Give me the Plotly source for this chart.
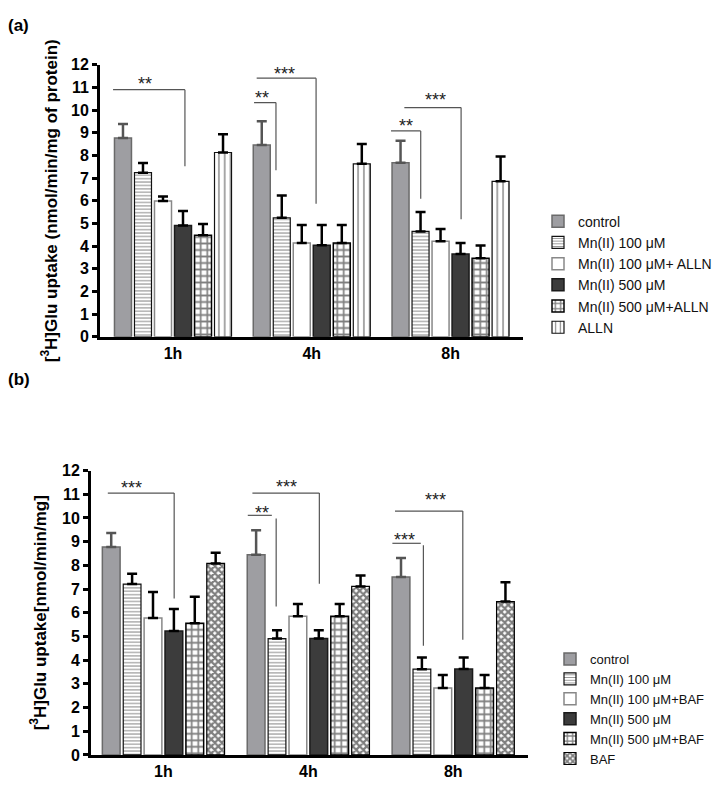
import plotly.graph_objects as go

W, H = 726, 792
groups = ["1h", "4h", "8h"]
xpos = [0, 1, 2]

names_a = ["control", "Mn(II) 100 \u03bcM", "Mn(II) 100 \u03bcM+ ALLN", "Mn(II) 500 \u03bcM",
           "Mn(II) 500 \u03bcM+ALLN", "ALLN"]
vals_a = [[8.77, 8.46, 7.68], [7.24, 5.25, 4.65], [5.99, 4.14, 4.22],
          [4.91, 4.04, 3.65], [4.48, 4.14, 3.47], [8.13, 7.63, 6.86]]
tops_a = [[9.39, 9.51, 8.65], [7.67, 6.23, 5.51], [6.19, 4.93, 4.75],
          [5.55, 4.93, 4.14], [4.98, 4.93, 4.03], [8.93, 8.50, 7.95]]

names_b = ["control", "Mn(II) 100 \u03bcM", "Mn(II) 100 \u03bcM+BAF", "Mn(II) 500 \u03bcM",
           "Mn(II) 500 \u03bcM+BAF", "BAF"]
vals_b = [[8.77, 8.45, 7.51], [7.21, 4.91, 3.62], [5.78, 5.85, 2.82],
          [5.23, 4.91, 3.63], [5.56, 5.85, 2.82], [8.08, 7.11, 6.47]]
tops_b = [[9.36, 9.48, 8.31], [7.64, 5.26, 4.11], [6.88, 6.37, 3.37],
          [6.16, 5.26, 4.11], [6.67, 6.37, 3.37], [8.53, 7.57, 7.29]]

# significance brackets: (x_start, x_end, y_line, x_vertical, y_vtop, y_bottom, label, text_x, text_y)
sig_a = [(-0.432, 0.086, 10.9, 0.086, 10.9, 7.52, "**", -0.20, 11.39),
         (0.584, 0.742, 10.33, 0.742, 10.33, 7.35, "**", 0.641, 10.75),
         (0.603, 1.031, 11.41, 1.031, 11.41, 5.87, "***", 0.807, 11.8),
         (1.571, 1.785, 9.08, 1.785, 9.08, 6.09, "**", 1.679, 9.5),
         (1.667, 2.076, 10.11, 2.076, 10.11, 5.18, "***", 1.895, 10.66)]
sig_b = [(-0.384, 0.074, 11.05, 0.074, 11.05, 6.6, "***", -0.218, 11.46),
         (0.582, 0.748, 10.11, 0.778, 9.98, 6.26, "**", 0.683, 10.43),
         (0.614, 1.076, 11.05, 1.076, 11.05, 7.22, "***", 0.851, 11.53),
         (1.580, 1.776, 8.93, 1.794, 8.85, 4.61, "***", 1.667, 9.26),
         (1.598, 2.066, 10.29, 2.066, 10.29, 4.86, "***", 1.876, 10.98)]

FONT = "Liberation Sans, Arial, sans-serif"

styles = [
    dict(color="#9e9ea2", line=dict(color="#6a6a6a", width=1.5), pattern=dict(shape="")),
    dict(color="white", line=dict(color="#111", width=1.2),
         pattern=dict(shape="-", fgcolor="#111", size=3.4, solidity=0.3)),
    dict(color="white", line=dict(color="#888", width=1.5), pattern=dict(shape="")),
    dict(color="#3c3c3c", line=dict(color="#1a1a1a", width=1.5), pattern=dict(shape="")),
    dict(color="white", line=dict(color="#000", width=1.5),
         pattern=dict(shape="+", fgcolor="#000", size=6.5, solidity=0.45)),
]
style_a6 = dict(color="white", line=dict(color="#111", width=1.2),
                pattern=dict(shape="|", fgcolor="#111", size=5.8, solidity=0.25))
style_b6 = dict(color="white", line=dict(color="#000", width=1.2),
                pattern=dict(shape="x", fgcolor="#000", size=5, solidity=0.7))
err_colors = ["#555", "#000", "#000", "#000", "#000", "#000"]

fig = go.Figure()
for i in range(6):
    st = styles[i] if i < 5 else style_a6
    fig.add_trace(go.Bar(
        x=xpos, y=vals_a[i], name=names_a[i], marker=st, legend="legend",
        error_y=dict(type="data", symmetric=False,
                     array=[t - v for t, v in zip(tops_a[i], vals_a[i])],
                     arrayminus=[0, 0, 0], color=err_colors[i], thickness=2.5, width=5),
        xaxis="x", yaxis="y"))
for i in range(6):
    st = styles[i] if i < 5 else style_b6
    fig.add_trace(go.Bar(
        x=xpos, y=vals_b[i], name=names_b[i], marker=st, legend="legend2",
        error_y=dict(type="data", symmetric=False,
                     array=[t - v for t, v in zip(tops_b[i], vals_b[i])],
                     arrayminus=[0, 0, 0], color=err_colors[i], thickness=2.5, width=5),
        xaxis="x2", yaxis="y2"))

shapes = []
annots = []
for sig, xr, yr in ((sig_a, "x", "y"), (sig_b, "x2", "y2")):
    for (x0, x1, yl, xv, yvt, yb, lab, tx, ty) in sig:
        shapes.append(dict(type="line", xref=xr, yref=yr, x0=x0, x1=x1, y0=yl, y1=yl,
                           line=dict(color="#555", width=1.2)))
        shapes.append(dict(type="line", xref=xr, yref=yr, x0=xv, x1=xv, y0=yvt, y1=yb,
                           line=dict(color="#555", width=1.2)))
        annots.append(dict(xref=xr, yref=yr, x=tx, y=ty, text=lab, showarrow=False,
                           font=dict(size=18, color="#222", family=FONT),
                           xanchor="center", yanchor="middle", yshift=-5))

annots.append(dict(xref="paper", yref="paper", x=6 / W, y=1 - 18 / H, text="(a)",
                   showarrow=False, xanchor="left", yanchor="middle",
                   font=dict(size=17, color="#000", family=FONT, weight="bold")))
annots.append(dict(xref="paper", yref="paper", x=6 / W, y=1 - 380 / H, text="(b)",
                   showarrow=False, xanchor="left", yanchor="middle",
                   font=dict(size=17, color="#000", family=FONT, weight="bold")))

tickfont = dict(size=16, color="#000", family=FONT, weight="bold")
titlefont = dict(size=17, family=FONT, weight="bold", color="#000")
axis_common = dict(showgrid=False, zeroline=False, showline=True, linecolor="#000",
                   linewidth=3)

fig.update_layout(
    width=W, height=H, margin=dict(l=0, r=0, t=0, b=0),
    paper_bgcolor="white", plot_bgcolor="white",
    barmode="group", bargap=0.135, bargroupgap=0.15,
    font=dict(family=FONT, color="#000"),
    xaxis=dict(domain=[100 / W, 523 / W], range=[-0.526, 2.522], tickvals=xpos,
               ticktext=groups, tickfont=tickfont, ticks="", anchor="y", **axis_common),
    yaxis=dict(domain=[1 - 336 / H, 1 - 58 / H], range=[0, 12], dtick=1, ticks="outside",
               ticklen=5, tickwidth=2.5, tickcolor="#000", tickfont=tickfont, anchor="x",
               title=dict(text="[<sup>3</sup>H]Glu uptake (nmol/min/mg of protein)",
                          font=titlefont, standoff=10),
               **axis_common),
    xaxis2=dict(domain=[91 / W, 528 / W], range=[-0.5, 2.516], tickvals=xpos,
                ticktext=groups, tickfont=tickfont, ticks="", anchor="y2", **axis_common),
    yaxis2=dict(domain=[1 - 763.3 / H, 1 - 472.7 / H], range=[0, 12], dtick=1,
                ticks="outside", ticklen=5, tickwidth=2.5, tickcolor="#000",
                tickfont=tickfont, anchor="x2",
                title=dict(text="[<sup>3</sup>H]Glu uptake[nmol/min/mg]",
                           font=titlefont, standoff=12),
                **axis_common),
    legend=dict(x=538 / W, y=1 - 202 / H, xanchor="left", yanchor="top",
                font=dict(size=14, color="#111", family=FONT), bgcolor="rgba(0,0,0,0)"),
    legend2=dict(x=550 / W, y=1 - 650 / H, xanchor="left", yanchor="top",
                 font=dict(size=13, color="#111", family=FONT), bgcolor="rgba(0,0,0,0)"),
    shapes=shapes, annotations=annots,
)

fig.write_html("out.html", config={"displayModeBar": False},
               post_script="document.body.style.margin='0';")
